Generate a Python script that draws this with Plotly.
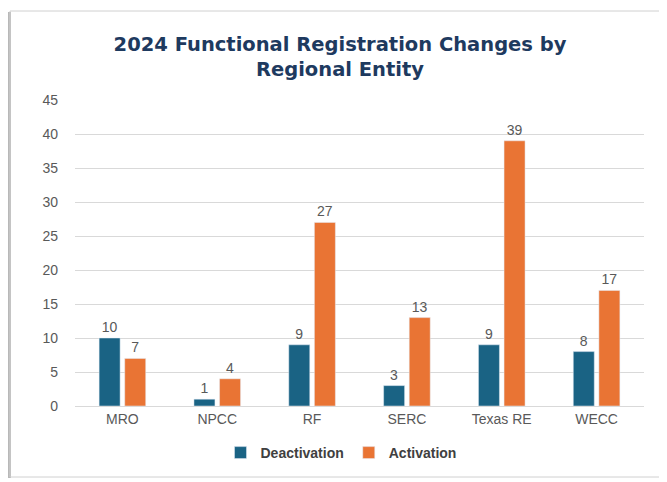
import plotly.graph_objects as go

categories = ["MRO", "NPCC", "RF", "SERC", "Texas RE", "WECC"]
deactivation = [10, 1, 9, 3, 9, 8]
activation = [7, 4, 27, 13, 39, 17]
y_ticks = [0, 5, 10, 15, 20, 25, 30, 35, 40, 45]

OFF = 8  # page body margin
W, H = 667 - OFF, 482 - OFF
# plot area in page pixels: x 75..644, y 100..406
L = 75 - OFF
R = W - (644 - OFF)
T = 100 - OFF
B = H - (406 - OFF)
pw, ph = W - L - R, H - T - B

def px_x(p):  # page px -> paper x
    return (p - OFF - L) / pw

def px_y(p):  # page px -> paper y
    return (H - B - (p - OFF)) / ph

fig = go.Figure()
fig.add_trace(go.Bar(
    x=categories, y=deactivation, name="Deactivation",
    marker=dict(color="#1A6384"),
    text=deactivation, textposition="outside",
    textfont=dict(color="#595959", size=14, family="Liberation Sans"),
    cliponaxis=False,
))
fig.add_trace(go.Bar(
    x=categories, y=activation, name="Activation",
    marker=dict(color="#E97434"),
    text=activation, textposition="outside",
    textfont=dict(color="#595959", size=14, family="Liberation Sans"),
    cliponaxis=False,
))

shapes = [
    # left shadow
    dict(type="rect", xref="paper", yref="paper",
         x0=px_x(8), x1=px_x(11), y0=px_y(478), y1=px_y(12),
         fillcolor="#B8B8B8", line=dict(width=0), layer="below"),
    # frame
    dict(type="rect", xref="paper", yref="paper",
         x0=px_x(10), x1=px_x(665), y0=px_y(477), y1=px_y(11),
         fillcolor="rgba(0,0,0,0)", line=dict(color="#D0D0D0", width=1), layer="below"),
]

fig.update_layout(
    width=W, height=H,
    margin=dict(l=L, r=R, t=T, b=B),
    paper_bgcolor="white",
    plot_bgcolor="rgba(0,0,0,0)",
    barmode="group",
    bargap=0.46,
    bargroupgap=0.18,
    shapes=shapes,
    title=dict(
        text="<b>2024 Functional Registration Changes by<br>Regional Entity</b>",
        x=px_x(340), xref="paper", xanchor="center",
        y=1 - (51 - OFF) / H, yanchor="middle", yref="container",
        font=dict(family="DejaVu Sans, sans-serif", size=19.5, color="#1E3A5F"),
    ),
    legend=dict(
        orientation="h", x=px_x(341), xanchor="center",
        y=px_y(453), yanchor="middle",
        font=dict(family="Liberation Sans", size=14, color="#404040", weight="bold"),
        bgcolor="rgba(0,0,0,0)",
        itemwidth=30,
    ),
    font=dict(family="Liberation Sans", color="#595959"),
)
fig.update_xaxes(
    showgrid=False, showline=True, linecolor="#D9D9D9", linewidth=1,
    ticks="", tickfont=dict(size=14, color="#595959"),
)
fig.update_yaxes(
    range=[0, 45], tickvals=y_ticks, showgrid=True, gridcolor="#D9D9D9",
    zeroline=False, showline=False, ticks="", ticklabelstandoff=16,
    tickfont=dict(size=14, color="#595959"),
)
fig.write_html("out.html")
